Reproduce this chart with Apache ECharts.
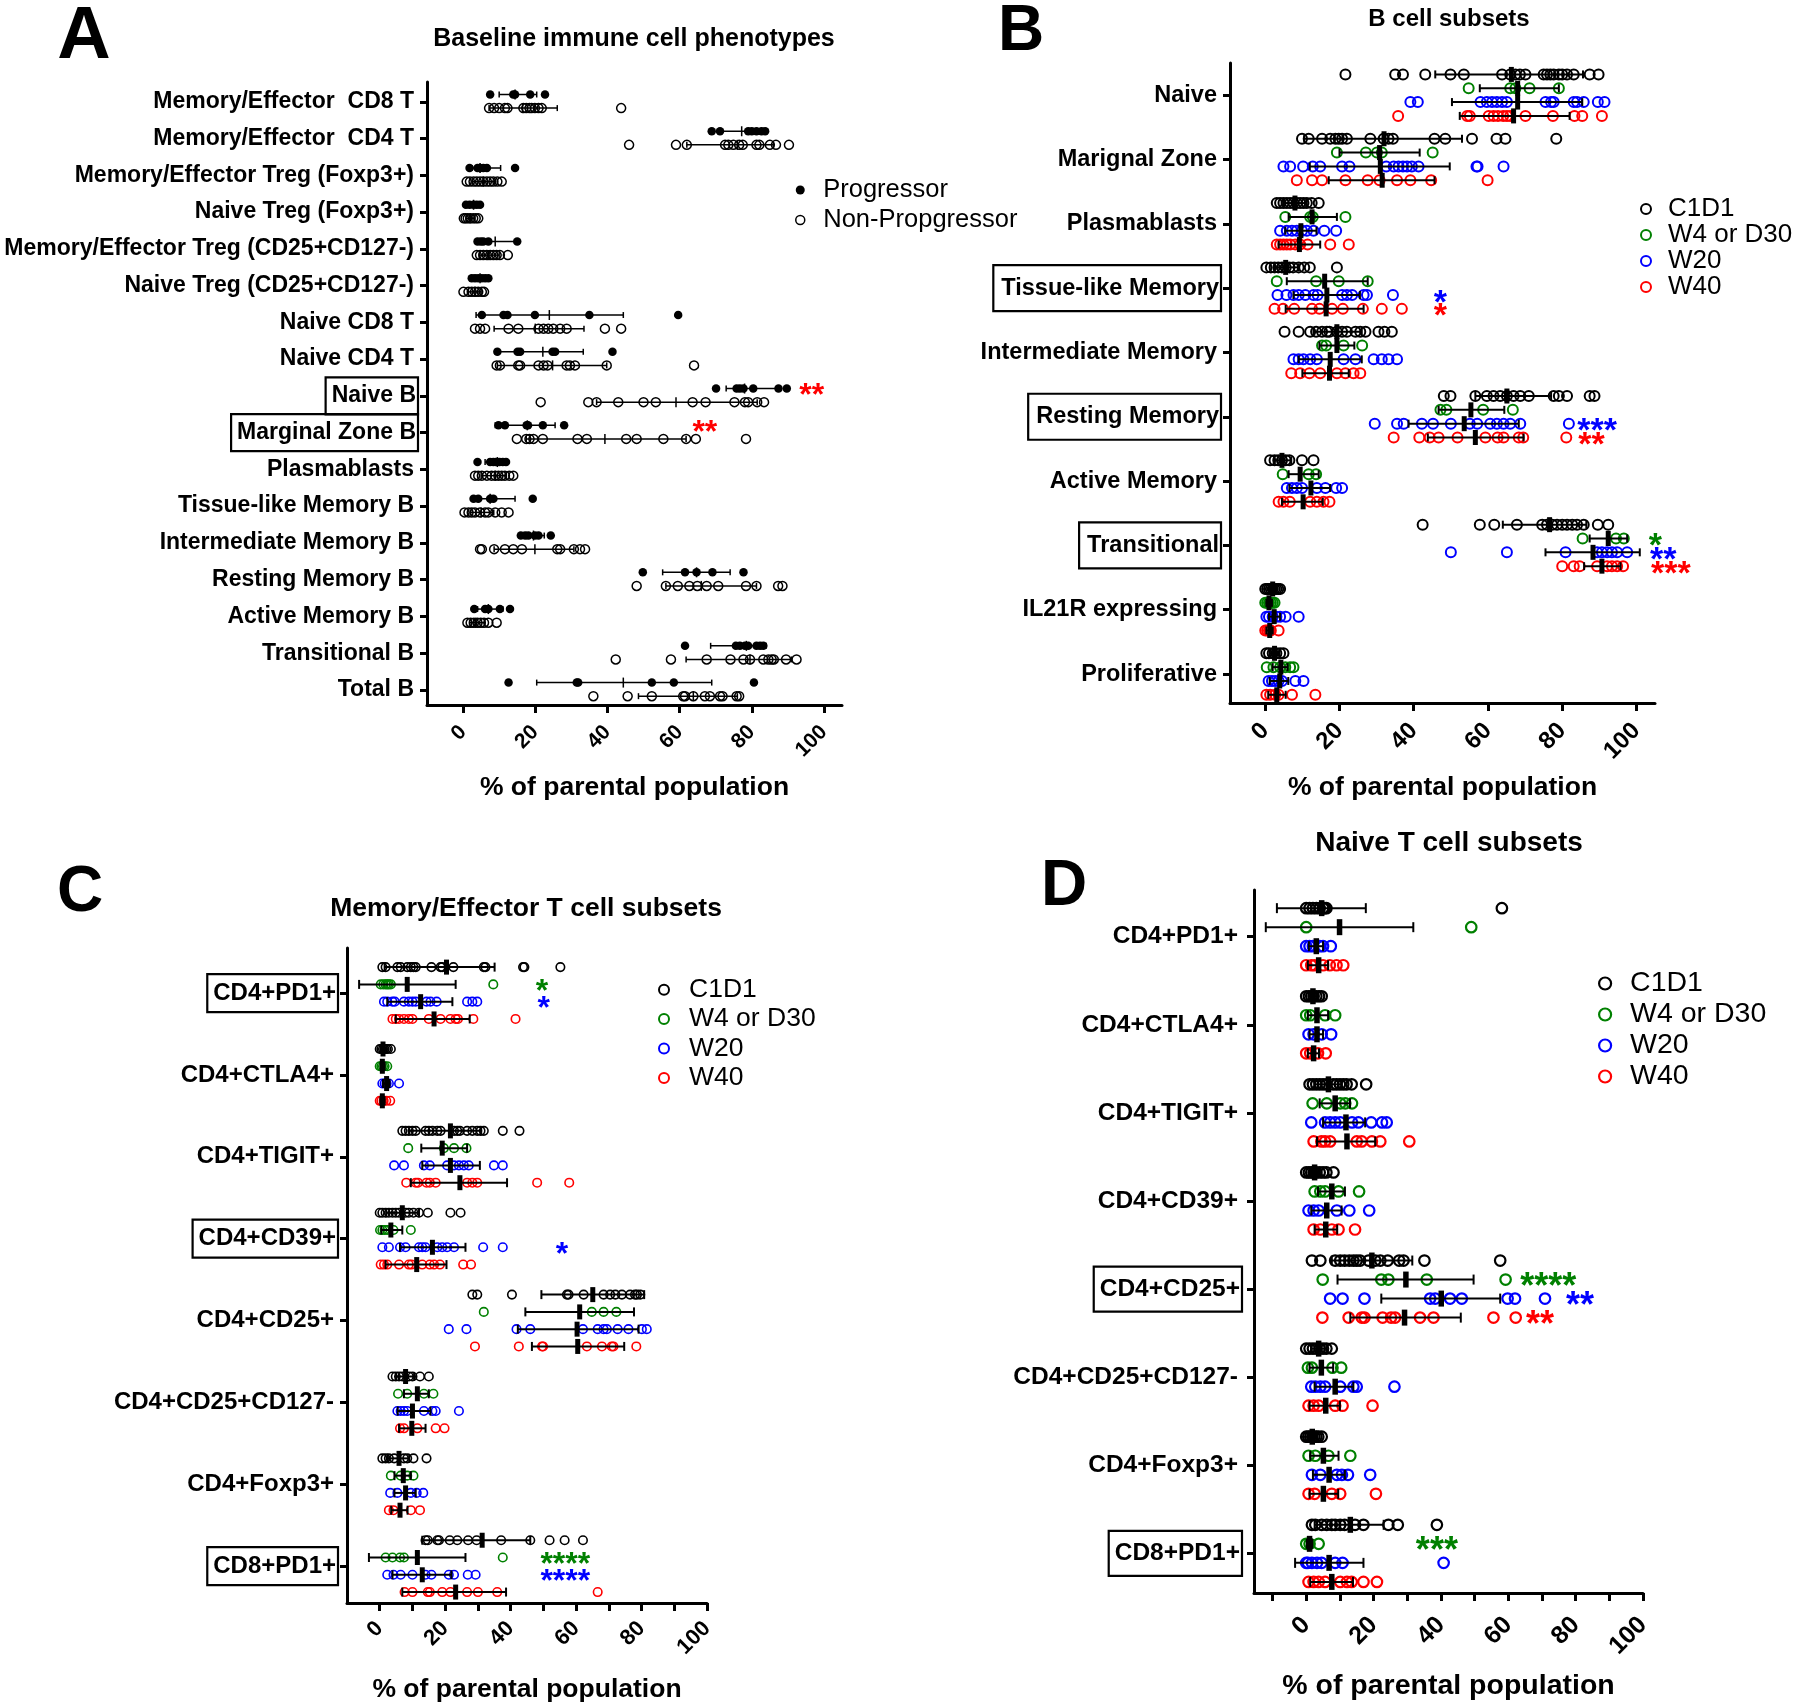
<!DOCTYPE html>
<html><head><meta charset="utf-8">
<script src="https://cdn.jsdelivr.net/npm/echarts@6/dist/echarts.min.js"></script>
<style>html,body{margin:0;padding:0;background:#fff}#c{width:1800px;height:1706px}</style>
</head><body><div id="c"></div>
<script>
const FONT = "'Liberation Sans', Arial, Helvetica, sans-serif";

// ================= Panel A : Baseline immune cell phenotypes =================
const aCats = ['Memory/Effector  CD8 T', 'Memory/Effector  CD4 T', 'Memory/Effector Treg (Foxp3+)', 'Naive Treg (Foxp3+)',
  'Memory/Effector Treg (CD25+CD127-)', 'Naive Treg (CD25+CD127-)', 'Naive CD8 T', 'Naive CD4 T', 'Naive B', 'Marginal Zone B',
  'Plasmablasts', 'Tissue-like Memory B', 'Intermediate Memory B', 'Resting Memory B', 'Active Memory B', 'Transitional B', 'Total B'];
const aBoxed = [8, 9];
const aSeriesNames = ['Progressor', 'Non-Propgressor'];
const aProgPts = [
  [7.5, 13.9, 14.4, 18.6, 22.7],
  [68.9, 71.2, 79.0, 80.0, 81.3, 82.7, 83.7],
  [1.8, 4.0, 4.7, 5.6, 6.6, 14.4],
  [0.8, 1.8, 2.9, 3.8, 4.7],
  [4.0, 4.9, 5.6, 7.0, 15.0],
  [2.4, 3.3, 4.2, 5.2, 6.1, 7.0],
  [5.2, 11.2, 12.3, 19.9, 35.0, 59.6],
  [9.5, 15.1, 15.8, 24.8, 25.5, 41.4],
  [70.1, 75.8, 76.7, 77.7, 80.4, 87.4, 89.7],
  [9.8, 11.6, 17.6, 18.0, 22.1, 28.0],
  [4.0, 7.5, 8.4, 9.1, 10.1, 11.0, 11.9],
  [2.9, 4.2, 7.5, 8.4, 19.3],
  [16.0, 17.2, 18.1, 19.9, 20.9, 24.3],
  [49.8, 61.5, 64.7, 69.1, 77.7],
  [3.1, 6.1, 7.0, 10.2, 13.0],
  [61.5, 75.6, 76.7, 78.1, 79.0, 81.3, 82.3, 83.2],
  [12.6, 31.5, 31.9, 52.3, 58.4, 80.6]
];
// [median, whisker low, whisker high]
const aProgStat = [
  [14.4, 10.0, 20.4], [77.2, 71.5, 83.5], [4.7, 2.5, 10.4], [2.9, 1.5, 4.3], [8.9, 4.5, 15.0], [4.7, 3.0, 6.5],
  [23.9, 3.6, 44.4], [22.1, 8.9, 33.3], [78.0, 72.9, 86.9], [17.8, 8.9, 25.5], [9.5, 6.1, 11.5], [7.5, 2.5, 14.4],
  [19.5, 16.5, 22.5], [64.7, 55.3, 74.0], [7.0, 4.0, 11.0], [78.5, 68.6, 84.0], [44.4, 20.4, 68.9]
];
const aNonPts = [
  [7.2, 8.6, 10.0, 11.6, 12.3, 16.7, 17.5, 18.4, 19.0, 19.9, 20.9, 21.8, 43.8],
  [46.0, 59.0, 62.0, 72.6, 73.5, 74.9, 76.5, 77.5, 81.3, 82.1, 85.0, 86.7, 90.3],
  [1.0, 1.9, 2.9, 3.8, 4.7, 5.6, 6.6, 7.5, 8.4, 9.5, 10.7],
  [0.2, 0.7, 1.3, 2.0, 2.8, 3.5, 4.2],
  [3.8, 4.7, 5.6, 6.6, 7.5, 8.4, 9.3, 10.2, 12.4],
  [0.1, 1.5, 2.4, 3.3, 4.2, 5.2, 5.8],
  [3.3, 4.7, 6.1, 12.6, 15.3, 20.9, 22.3, 23.6, 25.0, 26.9, 28.7, 39.3, 43.8],
  [9.3, 10.2, 15.3, 15.8, 20.9, 22.3, 23.4, 28.7, 29.6, 31.0, 39.8, 64.0],
  [21.5, 34.7, 37.0, 43.0, 50.0, 53.4, 63.6, 67.2, 75.2, 78.1, 79.0, 81.5, 83.4],
  [14.9, 17.5, 18.4, 19.5, 22.1, 31.7, 34.3, 45.2, 48.1, 55.5, 61.8, 64.5, 78.4],
  [3.3, 4.2, 5.2, 6.6, 7.9, 8.9, 9.8, 10.7, 11.6, 12.8, 13.9],
  [0.4, 1.5, 2.4, 3.3, 4.7, 6.1, 7.0, 8.9, 10.7, 12.6],
  [4.7, 5.2, 8.6, 11.6, 13.9, 16.3, 26.1, 26.9, 30.7, 32.4, 33.8],
  [48.1, 56.2, 59.5, 62.7, 64.9, 67.5, 70.7, 78.4, 81.3, 87.3, 88.5],
  [1.2, 2.1, 3.0, 4.0, 4.9, 5.8, 7.0, 9.3],
  [42.3, 57.6, 67.5, 74.1, 77.7, 79.5, 83.2, 84.6, 85.5, 86.1, 89.5, 92.4],
  [36.1, 45.6, 52.3, 61.0, 61.5, 63.8, 67.0, 68.4, 71.2, 71.9, 75.8, 76.5]
];
const aNonStat = [
  [16.5, 7.2, 26.1], [76.0, 62.0, 86.0], [5.6, 2.5, 9.0], [2.0, 0.8, 3.3], [7.0, 4.5, 10.0], [3.3, 1.5, 5.0],
  [20.0, 8.6, 33.5], [24.8, 9.5, 39.8], [59.0, 37.0, 81.5], [39.3, 17.5, 61.8], [8.9, 5.0, 12.0], [5.0, 2.0, 8.5],
  [19.9, 8.6, 30.7], [66.0, 56.2, 81.3], [3.5, 1.8, 6.0], [79.5, 61.8, 91.0], [63.8, 48.6, 76.0]
];
// [category, row group, x value, text]
const aStars = [[8, 0, 96.6, '**'], [9, 0, 67.0, '**']];

// ================= Shared group names (B, C, D) =================
const groupNames = ['C1D1', 'W4 or D30', 'W20', 'W40'];

// ================= Panel B : B cell subsets =================
const bCats = ['Naive', 'Marignal Zone', 'Plasmablasts', 'Tissue-like Memory', 'Intermediate Memory', 'Resting Memory',
  'Active Memory', 'Transitional', 'IL21R expressing', 'Proliferative'];
const bBoxed = [3, 5, 7];
const bC1D1Pts = [
  [21.6, 35.0, 37.1, 43.1, 49.9, 53.5, 63.8, 66.0, 67.4, 68.6, 70.1, 75.0, 75.9, 76.8, 77.7, 79.1, 80.0, 81.3, 83.1, 87.4, 89.8],
  [9.9, 11.7, 15.3, 17.5, 18.9, 19.8, 20.7, 22.0, 28.3, 31.9, 33.2, 34.4, 45.6, 48.5, 55.7, 62.3, 64.7, 78.4],
  [3.1, 4.0, 4.9, 5.8, 6.7, 7.6, 8.5, 9.4, 10.3, 11.2, 12.5, 14.4],
  [0.3, 1.5, 2.5, 3.5, 4.5, 5.5, 6.5, 7.5, 9.0, 10.5, 12.0, 19.3],
  [5.2, 9.0, 12.1, 13.7, 15.3, 16.6, 17.3, 19.3, 20.7, 22.0, 24.3, 25.6, 27.0, 30.5, 32.1, 34.1],
  [48.1, 49.9, 56.6, 59.7, 61.5, 63.3, 65.1, 66.9, 68.7, 71.0, 77.7, 79.1, 81.3, 87.4, 88.7],
  [1.3, 2.5, 3.5, 4.5, 5.5, 6.5, 9.9, 13.0],
  [42.4, 57.8, 61.7, 67.8, 74.6, 75.9, 77.3, 78.6, 80.0, 81.3, 82.7, 84.0, 85.8, 89.6, 92.4],
  [0.0, 0.5, 1.0, 1.5, 2.0, 2.5, 3.0, 3.5, 4.0],
  [0.3, 1.0, 2.0, 3.0, 4.0, 4.9]
];
const bC1D1Stat = [[66.3, 45.8, 85.6], [32.0, 10.5, 53.0], [8.0, 5.0, 11.0], [5.5, 2.5, 9.0], [19.3, 13.0, 26.0],
  [65.1, 56.6, 77.0], [4.5, 2.5, 7.0], [76.6, 64.0, 86.5], [2.0, 1.0, 3.0], [2.5, 1.2, 3.8]];
const bW4Pts = [
  [54.8, 66.0, 67.4, 71.2, 79.1], [19.3, 27.1, 30.1, 31.4, 45.1], [5.4, 12.1, 12.8, 21.6], [3.1, 13.7, 19.8, 27.6],
  [15.3, 16.4, 21.1, 26.1], [47.2, 48.8, 58.7, 66.7], [4.7, 11.7, 13.7], [85.5, 94.5, 96.6],
  [0.0, 0.5, 1.0, 1.5, 2.0, 2.5], [0.4, 2.2, 4.0, 5.4, 6.7, 7.6]
];
const bW4Stat = [[68.0, 57.8, 79.1], [30.8, 20.0, 41.6], [12.6, 6.3, 19.3], [16.0, 5.8, 27.6], [19.3, 14.6, 24.0],
  [55.4, 46.7, 64.4], [9.4, 6.3, 14.4], [92.4, 87.4, 97.5], [1.0, 0.3, 1.8], [4.2, 2.0, 6.0]];
const bW20Pts = [
  [39.1, 41.1, 58.0, 59.7, 61.1, 62.4, 63.8, 65.1, 75.5, 77.0, 77.7, 83.1, 84.0, 85.8, 89.6, 91.4],
  [4.9, 6.7, 10.2, 12.8, 14.8, 20.7, 22.7, 32.6, 34.6, 35.9, 37.1, 38.2, 39.5, 41.3, 56.9, 57.2, 64.2],
  [4.0, 5.8, 7.2, 8.5, 9.9, 11.2, 13.0, 15.9, 19.1],
  [3.3, 5.7, 7.6, 9.0, 10.8, 13.0, 14.1, 20.7, 22.0, 23.4, 26.5, 27.4, 34.4],
  [7.6, 9.0, 10.3, 12.1, 13.9, 21.1, 24.3, 29.2, 31.4, 33.2, 35.5],
  [29.5, 35.5, 37.3, 42.2, 45.2, 50.0, 55.1, 57.1, 60.6, 62.4, 64.2, 66.0, 68.7, 81.8],
  [5.8, 7.2, 8.5, 9.9, 13.9, 16.2, 19.1, 20.7],
  [50.0, 65.1, 80.9, 89.4, 90.7, 92.1, 93.4, 94.8, 97.5],
  [0.3, 1.0, 2.0, 3.0, 4.0, 5.5, 9.0],
  [0.9, 1.8, 2.7, 3.6, 4.5, 8.1, 10.3]
];
const bW20Stat = [[68.0, 50.3, 85.4], [31.0, 12.0, 49.7], [9.6, 5.4, 13.8], [16.6, 7.6, 25.5], [17.5, 9.0, 26.0],
  [53.6, 38.6, 68.3], [12.3, 6.5, 17.5], [88.3, 75.5, 100.9], [2.4, 1.0, 4.0], [3.9, 1.2, 6.2]];
const bW40Pts = [
  [35.8, 54.4, 55.1, 60.2, 61.5, 62.7, 64.1, 65.1, 66.0, 70.1, 77.5, 83.3, 85.4, 90.7],
  [8.5, 12.6, 15.3, 21.6, 27.6, 30.8, 35.5, 39.1, 44.7, 59.9],
  [3.1, 4.0, 4.9, 5.8, 6.7, 8.1, 9.4, 11.4, 17.5, 22.5],
  [2.5, 4.8, 7.8, 12.6, 14.6, 18.0, 20.9, 26.3, 31.4, 36.8],
  [7.0, 9.4, 11.9, 14.8, 19.3, 21.6, 23.8, 25.6],
  [34.6, 41.5, 44.3, 46.7, 51.8, 59.3, 62.6, 64.2, 68.3, 69.5, 81.1],
  [3.6, 4.9, 6.6, 12.1, 13.9, 15.7, 17.3],
  [80.0, 83.1, 84.7, 89.4, 92.1, 93.4, 94.8, 96.4],
  [0.0, 0.5, 1.0, 1.5, 3.6],
  [0.3, 1.3, 2.7, 3.6, 7.2, 13.5]
];
const bW40Stat = [[66.9, 52.4, 82.0], [31.5, 17.1, 45.6], [9.2, 3.6, 14.8], [16.4, 5.5, 26.5], [17.3, 10.0, 22.5],
  [56.6, 43.8, 69.6], [10.2, 4.5, 15.5], [90.7, 85.9, 95.7], [1.2, 0.3, 2.0], [3.1, 0.8, 5.5]];
const bStars = [[3, 2, 47.2, '*'], [3, 3, 47.2, '*'], [5, 2, 89.4, '***'], [5, 3, 87.9, '**'],
  [7, 1, 105.1, '*'], [7, 2, 107.2, '**'], [7, 3, 109.3, '***']];

// ================= Panel C : Memory/Effector T cell subsets =================
const cCats = ['CD4+PD1+', 'CD4+CTLA4+', 'CD4+TIGIT+', 'CD4+CD39+', 'CD4+CD25+', 'CD4+CD25+CD127-', 'CD4+Foxp3+', 'CD8+PD1+'];
const cBoxed = [0, 3, 7];
const cC1D1Pts = [
  [0.8, 1.8, 5.4, 6.4, 8.4, 9.5, 10.3, 11.0, 15.8, 18.6, 19.1, 22.5, 31.8, 32.3, 43.8, 44.2, 55.2],
  [0.0, 0.5, 1.0, 1.5, 2.0, 2.5, 3.4],
  [6.9, 7.9, 8.9, 10.0, 11.0, 14.0, 15.0, 16.1, 17.6, 18.6, 22.7, 23.7, 24.5, 26.7, 28.3, 29.8, 30.8, 31.8, 37.6, 42.7],
  [0.0, 0.8, 1.8, 2.8, 3.9, 4.9, 5.9, 7.9, 8.9, 10.3, 12.0, 14.7, 21.6, 24.7],
  [28.3, 29.8, 40.4, 57.2, 57.7, 62.3, 68.4, 70.4, 72.0, 74.0, 76.5, 78.0, 78.6, 79.6],
  [3.9, 4.9, 5.9, 6.9, 8.9, 10.0, 12.3, 15.0],
  [0.8, 1.8, 2.8, 4.4, 7.4, 8.4, 10.3, 14.3],
  [14.0, 14.7, 17.6, 18.1, 21.4, 23.7, 27.0, 29.6, 37.1, 46.0, 51.9, 56.5, 62.1]
];
const cC1D1Stat = [[20.4, 1.5, 35.1], [1.0, 0.3, 2.0], [21.6, 9.0, 31.0], [6.9, 2.0, 12.0], [65.1, 49.4, 80.8],
  [7.9, 5.0, 10.5], [5.9, 2.5, 9.0], [31.3, 13.0, 46.0]];
const cW4Pts = [
  [0.3, 1.1, 1.8, 2.3, 2.8, 3.4, 34.7], [0.0, 0.5, 1.0, 1.5, 2.3], [8.7, 19.6, 22.7, 26.5], [0.1, 0.8, 1.5, 2.3, 4.2, 9.5],
  [31.8, 64.8, 68.4, 72.3], [5.6, 8.4, 13.5, 16.4], [3.4, 6.4, 8.4, 10.3], [1.8, 3.9, 6.2, 7.4, 37.6]
];
const cW4Stat = [[8.4, -6.3, 23.2], [0.8, 0.3, 1.5], [19.1, 12.7, 26.7], [3.4, 0.5, 6.9], [61.1, 44.5, 77.7],
  [11.5, 7.4, 15.0], [7.2, 4.5, 9.5], [11.5, -3.3, 26.2]];
const cW20Pts = [
  [1.3, 2.3, 3.9, 4.6, 7.4, 8.9, 10.0, 11.0, 14.3, 15.5, 17.4, 26.7, 28.3, 29.8],
  [0.8, 1.5, 2.1, 2.8, 5.9],
  [4.4, 7.4, 13.5, 15.3, 20.6, 22.7, 24.2, 25.7, 27.2, 34.9, 37.6],
  [0.8, 2.8, 6.2, 7.9, 12.0, 13.0, 14.0, 17.6, 19.1, 20.6, 22.7, 31.6, 37.6],
  [21.1, 26.5, 41.8, 46.0, 62.1, 66.6, 68.4, 69.4, 72.7, 76.0, 80.1, 81.6],
  [5.4, 6.4, 7.4, 8.4, 13.5, 16.1, 17.1, 24.2],
  [3.2, 5.4, 9.5, 11.3, 13.3],
  [2.3, 4.2, 6.4, 10.0, 14.0, 15.8, 21.1, 22.7, 26.9, 29.3]
];
const cW20Stat = [[12.5, 2.3, 22.2], [2.1, 1.0, 3.0], [21.6, 13.0, 30.6], [16.1, 6.2, 26.2], [60.3, 42.2, 79.1],
  [10.0, 5.5, 15.5], [7.9, 4.5, 11.0], [13.0, 3.9, 21.9]];
const cW40Pts = [
  [3.9, 4.9, 5.9, 7.4, 8.9, 10.0, 15.0, 18.6, 21.6, 23.2, 23.9, 28.6, 41.5],
  [0.0, 0.5, 1.2, 2.0, 3.2],
  [8.1, 11.0, 11.7, 14.3, 15.3, 17.1, 26.7, 28.3, 29.8, 48.1, 57.9],
  [0.3, 1.3, 2.3, 5.9, 8.9, 9.7, 13.0, 15.3, 16.6, 18.4, 25.5, 27.9],
  [29.1, 42.5, 49.6, 49.9, 63.3, 67.9, 70.9, 71.4, 78.4],
  [6.2, 7.4, 11.5, 17.1, 19.8],
  [2.8, 4.2, 9.5, 12.3],
  [7.6, 10.0, 14.7, 15.3, 19.1, 21.6, 26.7, 30.0, 35.9, 66.6]
];
const cW40Stat = [[16.6, 4.9, 27.5], [0.8, 0.2, 1.5], [24.5, 9.5, 38.9], [11.3, 1.8, 20.4], [60.5, 46.5, 74.7],
  [9.8, 5.9, 14.0], [6.2, 3.5, 8.5], [23.2, 6.9, 38.6]];
const cStars = [[0, 1, 49.6, '*'], [0, 2, 50.1, '*'], [3, 2, 55.7, '*'], [7, 1, 56.7, '****'], [7, 2, 56.7, '****']];

// ================= Panel D : Naive T cell subsets =================
const dCats = ['CD4+PD1+', 'CD4+CTLA4+', 'CD4+TIGIT+', 'CD4+CD39+', 'CD4+CD25+', 'CD4+CD25+CD127-', 'CD4+Foxp3+', 'CD8+PD1+'];
const dBoxed = [4, 7];
const dC1D1Pts = [
  [0.0, 1.0, 2.0, 3.0, 4.0, 5.0, 5.5, 6.0, 58.1],
  [0.0, 0.8, 1.5, 2.2, 3.0, 3.8, 4.6],
  [1.0, 2.0, 3.0, 4.0, 5.0, 6.0, 8.0, 9.0, 10.0, 11.0, 12.0, 13.5, 17.8],
  [0.0, 0.8, 1.5, 2.2, 3.0, 4.0, 5.0, 6.0, 8.1],
  [1.7, 4.2, 8.6, 10.1, 11.4, 12.8, 14.0, 15.0, 16.0, 18.5, 20.5, 22.0, 24.2, 27.6, 28.9, 35.1, 57.6],
  [0.0, 1.0, 2.0, 3.0, 4.0, 5.0, 6.0, 7.6],
  [0.0, 0.6, 1.2, 1.8, 2.4, 3.0, 3.6, 4.6],
  [1.7, 2.7, 4.6, 6.1, 7.6, 8.6, 10.1, 11.4, 14.5, 17.0, 24.4, 27.2, 38.8]
];
const dC1D1Stat = [[4.6, -8.7, 17.7], [2.0, 0.8, 3.2], [6.6, 2.5, 10.5], [2.5, 1.0, 4.0], [19.5, 7.6, 31.5],
  [3.7, 1.5, 5.5], [1.8, 0.6, 3.0], [13.1, 2.5, 23.0]];
const dW4Pts = [
  [0.0, 49.0], [0.0, 1.2, 5.6, 8.6], [1.9, 6.1, 10.1, 11.6, 13.6], [2.5, 4.2, 5.6, 9.6, 15.7],
  [4.9, 22.3, 24.4, 35.8, 59.2], [0.5, 1.7, 7.8, 10.4], [0.7, 2.7, 6.6, 13.1], [0.0, 1.0, 3.7]
];
const dW4Stat = [[9.9, -12.0, 31.8], [3.2, 0.5, 6.5], [8.6, 4.0, 13.0], [7.6, 3.5, 11.5], [29.6, 9.3, 49.7],
  [4.5, 1.0, 8.0], [5.1, 1.2, 9.6], [1.0, 0.2, 1.8]];
const dW20Pts = [
  [0.0, 1.0, 2.0, 4.0, 5.0, 7.3], [0.7, 2.2, 4.6, 7.4],
  [1.5, 5.6, 7.1, 8.6, 10.1, 13.6, 15.5, 19.3, 22.5, 23.9],
  [0.7, 2.2, 3.7, 9.1, 12.8, 18.7],
  [7.1, 10.8, 17.3, 36.8, 38.3, 42.7, 46.2, 59.8, 62.0, 70.9],
  [1.5, 2.7, 4.2, 5.6, 10.1, 14.0, 15.0, 26.2],
  [1.7, 4.2, 9.1, 10.6, 12.4, 19.0],
  [0.0, 0.5, 1.7, 3.2, 4.6, 8.6, 10.8, 40.8]
];
const dW20Stat = [[3.0, 0.8, 5.0], [3.2, 1.0, 5.0], [11.8, 5.0, 17.5], [6.1, 1.5, 10.5], [40.1, 22.3, 57.6],
  [8.6, 2.5, 14.0], [6.8, 2.0, 11.5], [6.8, -3.3, 17.0]];
const dW40Pts = [
  [0.0, 1.5, 2.5, 5.0, 7.0, 9.0, 11.0], [0.0, 1.2, 3.5, 5.8],
  [2.2, 4.5, 5.6, 7.1, 15.0, 16.5, 19.5, 22.0, 30.6],
  [2.2, 4.2, 7.6, 9.6, 14.5],
  [4.8, 12.6, 16.5, 17.3, 22.7, 25.2, 26.4, 33.8, 37.8, 55.6, 62.2],
  [0.7, 2.2, 3.7, 8.6, 10.8, 19.7],
  [0.7, 2.5, 7.6, 10.1, 20.7],
  [0.7, 2.2, 3.7, 5.6, 10.1, 12.1, 13.5, 17.0, 21.0]
];
const dW40Stat = [[3.7, 0.5, 6.5], [2.2, 0.5, 3.8], [12.1, 3.2, 20.5], [5.8, 2.5, 9.2], [29.2, 13.1, 45.9],
  [5.8, 1.0, 10.0], [5.1, 1.0, 9.5], [7.6, 1.2, 13.9]];
const dStars = [[4, 1, 71.9, '****'], [4, 2, 81.3, '**'], [4, 3, 69.4, '**'], [7, 1, 38.8, '***']];

// ================= Axis tick values =================
const ticks20 = [0, 20, 40, 60, 80, 100];
const ticks10 = [0, 10, 20, 30, 40, 50, 60, 70, 80, 90, 100];
const ticksD = [-10, 0, 10, 20, 30, 40, 50, 60, 70, 80, 90, 100];
const axisTitle = '% of parental population';

// ================= Styling / layout (not data) =================
const COLORS4 = ['#000000', '#008000', '#0000ff', '#ff0000'];
const range = n => Array.from({length: n}, (_, i) => i);

const panels = [
  { grid: {left: 427, top: 82, width: 415, height: 623}, x: [-10, 105], y: [-0.54, 16.41],
    cats: aCats, boxed: aBoxed, catFs: 23, boxPad: [7, 2, 7, 6], labMargin: 9,
    xTicks: ticks20, xLabels: ticks20, tickFs: 21, tickMargin: 24, nameFs: 26.5, nameGap: 69,
    offsets: [-0.2, 0.17],
    groups: [
      {name: aSeriesNames[0], pts: aProgPts, st: aProgStat, stroke: '#000', fill: '#000', size: 8.5, bw: 0},
      {name: aSeriesNames[1], pts: aNonPts, st: aNonStat, stroke: '#000', fill: 'transparent', size: 9, bw: 1.5}
    ],
    bar: {lw: 1.5, capH: 6, midW: 1.5, midH: 10}, stars: aStars, starFs: 32, starColors: ['#ff0000', '#ff0000'] },
  { grid: {left: 1230, top: 63, width: 425, height: 640}, x: [-9.5, 105], y: [-0.5, 9.45],
    cats: bCats, boxed: bBoxed, catFs: 23.5, boxPad: [11, 2, 11, 8], labMargin: 9,
    xTicks: ticks20, xLabels: ticks20, tickFs: 24, tickMargin: 24, nameFs: 26.5, nameGap: 71,
    offsets: [-1.5, -0.5, 0.5, 1.5].map(v => v * 0.215),
    groups: [[bC1D1Pts, bC1D1Stat], [bW4Pts, bW4Stat], [bW20Pts, bW20Stat], [bW40Pts, bW40Stat]].map((g, i) =>
      ({name: groupNames[i], pts: g[0], st: g[1], stroke: COLORS4[i], fill: 'transparent', size: 10, bw: 2})),
    bar: {lw: 2, capH: 8, midW: 5, midH: 15}, stars: bStars, starFs: 34, starColors: COLORS4 },
  { grid: {left: 347, top: 948, width: 360, height: 655}, x: [-10, 100], y: [-0.55, 7.45],
    cats: cCats, boxed: cBoxed, catFs: 24, boxPad: [7, 2, 7, 6], labMargin: 9,
    xTicks: ticks10, xLabels: ticks20, tickFs: 22, tickMargin: 22, nameFs: 26.5, nameGap: 73,
    offsets: [-1.5, -0.5, 0.5, 1.5].map(v => v * 0.211),
    groups: [[cC1D1Pts, cC1D1Stat], [cW4Pts, cW4Stat], [cW20Pts, cW20Stat], [cW40Pts, cW40Stat]].map((g, i) =>
      ({name: groupNames[i], pts: g[0], st: g[1], stroke: COLORS4[i], fill: 'transparent', size: 8.5, bw: 1.6})),
    bar: {lw: 2, capH: 9, midW: 5, midH: 15}, stars: cStars, starFs: 32, starColors: COLORS4 },
  { grid: {left: 1254, top: 890, width: 389, height: 703}, x: [-15.5, 100], y: [-0.53, 7.45],
    cats: dCats, boxed: dBoxed, catFs: 24.5, boxPad: [10, 2, 10, 6], labMargin: 12,
    xTicks: ticksD, xLabels: ticks20, tickFs: 25, tickMargin: 28, nameFs: 28.5, nameGap: 79,
    offsets: [-1.5, -0.5, 0.5, 1.5].map(v => v * 0.216),
    groups: [[dC1D1Pts, dC1D1Stat], [dW4Pts, dW4Stat], [dW20Pts, dW20Stat], [dW40Pts, dW40Stat]].map((g, i) =>
      ({name: groupNames[i], pts: g[0], st: g[1], stroke: COLORS4[i], fill: 'transparent', size: 10.5, bw: 2.2})),
    bar: {lw: 2, capH: 10, midW: 5.5, midH: 16}, stars: dStars, starFs: 36, starColors: COLORS4 }
];

const grids = [], xAxes = [], yAxes = [], series = [];
panels.forEach((p, pi) => {
  grids.push(Object.assign({outerBoundsMode: 'none', containLabel: false}, p.grid));
  xAxes.push({
    type: 'value', gridIndex: pi, min: p.x[0], max: p.x[1],
    axisLine: {show: true, onZero: false, lineStyle: {color: '#000', width: 3}},
    axisTick: {show: true, customValues: p.xTicks, length: 8, lineStyle: {color: '#000', width: 3}},
    axisLabel: {customValues: p.xLabels, rotate: 45, margin: p.tickMargin, fontSize: p.tickFs, fontWeight: 'bold',
      color: '#000', fontFamily: FONT},
    splitLine: {show: false},
    name: axisTitle, nameLocation: 'middle', nameGap: p.nameGap,
    nameTextStyle: {fontSize: p.nameFs, fontWeight: 'bold', color: '#000', fontFamily: FONT}
  });
  const n = p.cats.length;
  const txt = {fontSize: p.catFs, fontWeight: 'bold', color: '#000', fontFamily: FONT};
  yAxes.push({
    type: 'value', gridIndex: pi, min: p.y[0], max: p.y[1], inverse: true,
    axisLine: {show: true, onZero: false, lineStyle: {color: '#000', width: 3}},
    axisTick: {show: true, customValues: range(n), length: 7, lineStyle: {color: '#000', width: 3}},
    axisLabel: Object.assign({
      customValues: range(n), margin: p.labMargin,
      formatter: v => { const i = Math.round(v); const t = p.cats[i]; return p.boxed.includes(i) ? '{box|' + t + '}' : '{plain|' + t + '}'; },
      rich: {
        plain: Object.assign({padding: [0, 4, 0, 0]}, txt),
        box: Object.assign({borderColor: '#000', borderWidth: 2.2, padding: p.boxPad}, txt)
      }
    }, txt),
    splitLine: {show: false}
  });
  // points
  p.groups.forEach((g, gi) => {
    const data = [];
    g.pts.forEach((row, ci) => row.forEach(v => data.push([v, ci + p.offsets[gi]])));
    series.push({
      type: 'scatter', name: g.name, xAxisIndex: pi, yAxisIndex: pi, data, symbol: 'circle', symbolSize: g.size,
      itemStyle: {color: g.fill, borderColor: g.stroke, borderWidth: g.bw, opacity: 1}, z: 2, silent: true
    });
  });
  // error bars with median marks
  p.groups.forEach((g, gi) => {
    const off = p.offsets[gi], b = p.bar;
    series.push({
      type: 'custom', name: 'bars ' + pi + '-' + gi, xAxisIndex: pi, yAxisIndex: pi, z: 4, silent: true,
      data: g.st.map((s, ci) => [s[0], ci + off, s[1], s[2]]),
      renderItem: (params, api) => {
        const yv = api.value(1);
        const pm = api.coord([api.value(0), yv]);
        const pl = api.coord([api.value(2), yv]);
        const ph = api.coord([api.value(3), yv]);
        const cy = pm[1], ch = b.capH / 2;
        const ls = {stroke: '#000', lineWidth: b.lw};
        const kids = [
          {type: 'line', shape: {x1: pl[0], y1: cy, x2: ph[0], y2: cy}, style: ls},
          {type: 'line', shape: {x1: pl[0], y1: cy - ch, x2: pl[0], y2: cy + ch}, style: ls},
          {type: 'line', shape: {x1: ph[0], y1: cy - ch, x2: ph[0], y2: cy + ch}, style: ls}
        ];
        if (b.midW > 2) kids.push({type: 'rect', shape: {x: pm[0] - b.midW / 2, y: cy - b.midH / 2, width: b.midW, height: b.midH}, style: {fill: '#000'}});
        else kids.push({type: 'line', shape: {x1: pm[0], y1: cy - b.midH / 2, x2: pm[0], y2: cy + b.midH / 2}, style: {stroke: '#000', lineWidth: b.midW}});
        return {type: 'group', children: kids};
      }
    });
  });
  // significance stars
  series.push({
    type: 'custom', name: 'stars ' + pi, xAxisIndex: pi, yAxisIndex: pi, z: 5, silent: true, clip: false,
    data: p.stars.map(s => [s[2], s[0] + p.offsets[s[1]]]),
    renderItem: (params, api) => {
      const s = p.stars[params.dataIndex];
      const pt = api.coord([api.value(0), api.value(1)]);
      return {type: 'text', x: pt[0], y: pt[1] + 0.24 * p.starFs,
        style: {text: s[3], fill: p.starColors[s[1]], font: 'bold ' + p.starFs + 'px ' + FONT, align: 'center', verticalAlign: 'middle'}};
    }
  });
});

const legendText = (fs, lh) => ({fontSize: fs, lineHeight: lh, color: '#000', fontFamily: FONT});
const groupLegendData = (bw) => groupNames.map((nm, i) => ({name: nm, icon: 'circle', itemStyle: {color: '#fff', borderColor: COLORS4[i], borderWidth: bw}}));
const T = (text, left, top, fs) => ({text, left, top, textAlign: 'center', padding: 0,
  textStyle: {fontSize: fs, fontWeight: 'bold', color: '#000', fontFamily: FONT}});

const option = {
  backgroundColor: '#fff', animation: false,
  title: [
    T('A', 84, 1, 74), T('B', 1021, 0, 64), T('C', 80, 861, 64), T('D', 1064, 855, 64),
    T('Baseline immune cell phenotypes', 634, 27, 25),
    T('B cell subsets', 1449, 7, 24),
    T('Memory/Effector T cell subsets', 526, 895, 26.5),
    T('Naive T cell subsets', 1449, 829, 28)
  ],
  legend: [
    {left: 795, top: 175, orient: 'vertical', itemWidth: 36, itemHeight: 9, itemGap: 0, padding: 0, selectedMode: false,
      textStyle: legendText(25.5, 30),
      data: [{name: aSeriesNames[0], icon: 'circle', itemStyle: {color: '#000', borderWidth: 0}},
             {name: aSeriesNames[1], icon: 'circle', itemStyle: {color: '#fff', borderColor: '#000', borderWidth: 1.5}}]},
    {left: 1640, top: 196, orient: 'vertical', itemWidth: 34, itemHeight: 10, itemGap: 0, padding: 0, selectedMode: false,
      textStyle: legendText(26, 24.5), data: groupLegendData(2)},
    {left: 658, top: 975, orient: 'vertical', itemWidth: 40, itemHeight: 10, itemGap: 0, padding: 0, selectedMode: false,
      textStyle: legendText(26.5, 29.4), data: groupLegendData(2)},
    {left: 1598, top: 968, orient: 'vertical', itemWidth: 40, itemHeight: 12, itemGap: 0, padding: 0, selectedMode: false,
      textStyle: legendText(28.5, 31), data: groupLegendData(2.2)}
  ],
  grid: grids, xAxis: xAxes, yAxis: yAxes, series
};

const chart = echarts.init(document.getElementById('c'), null, {renderer: 'canvas', width: 1800, height: 1706});
chart.setOption(option);
</script></body></html>
